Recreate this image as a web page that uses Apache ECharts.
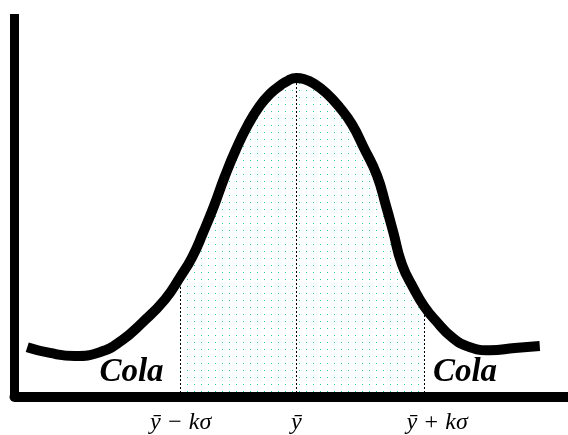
<!DOCTYPE html>
<html>
<head>
<meta charset="utf-8">
<script src="https://cdn.jsdelivr.net/npm/echarts@6/dist/echarts.min.js"></script>
<style>
  html, body { margin: 0; padding: 0; background: #ffffff; }
  #chart { width: 568px; height: 435px; }
</style>
</head>
<body>
<div id="chart"></div>
<script>
// Bell-shaped distribution curve: horizontal position and height of each point
const curveX = [2.3, 6.4, 10.9, 15.4, 19.4, 23.0, 27.2, 30.0, 32.1, 34.1, 36.0, 38.0, 40.0,
                42.2, 44.3, 46.2, 48.0, 49.4, 50.9, 52.5, 53.9, 56.3, 58.8, 61.0, 63.1, 65.5,
                67.1, 68.4, 70.0, 72.2, 74.0, 76.0, 79.2, 82.3, 85.9, 90.4, 94.9];
const curveY = [13.0, 11.5, 10.7, 11.7, 14.8, 19.3, 25.5, 31.5, 36.5, 43.0, 49.7, 57.6, 64.6,
                71.1, 76.0, 79.2, 81.3, 82.6, 83.3, 82.9, 82.0, 79.4, 75.5, 71.1, 65.1, 57.8,
                50.0, 43.2, 34.6, 28.1, 23.7, 20.1, 15.4, 13.0, 12.2, 12.8, 13.3];

// Lower limit, mean and upper limit on the horizontal scale
const lowerLimit = 30.0;
const meanValue = 50.9;
const upperLimit = 74.0;
const tickValues = [lowerLimit, meanValue, upperLimit];
const tickLabels = ['ȳ − kσ', 'ȳ', 'ȳ + kσ'];
const tailLabel = 'Cola';

const curveData = curveX.map((x, i) => [x, curveY[i]]);
const fillData = curveData.filter(p => p[0] >= lowerLimit && p[0] <= upperLimit);
const heightAt = v => curveY[curveX.indexOf(v)];

// Fine dot texture for the central region
const dots = document.createElement('canvas');
dots.width = 7;
dots.height = 7;
const dctx = dots.getContext('2d');
dctx.fillStyle = '#22d09c';
dctx.fillRect(5, 6, 1, 1);

const serif = '"Liberation Serif", "Times New Roman", serif';

const tailText = (x) => ({
  type: 'text', z: 10,
  style: {
    text: tailLabel, x: x, y: 372, align: 'center', verticalAlign: 'middle',
    fontFamily: serif, fontStyle: 'italic', fontWeight: 'bold', fontSize: 33, fill: '#000'
  }
});

const chart = echarts.init(document.getElementById('chart'), null, { renderer: 'canvas' });
chart.setOption({
  animation: false,
  backgroundColor: '#ffffff',
  grid: { left: 14.5, right: 0, top: 14, bottom: 37, containLabel: false },
  xAxis: {
    type: 'value',
    min: 0,
    max: 100,
    axisLine: { show: true, onZero: false, lineStyle: { color: '#000', width: 10 } },
    axisTick: { show: false },
    splitLine: { show: false },
    axisLabel: {
      customValues: tickValues,
      margin: 14,
      color: '#000',
      fontFamily: serif,
      fontStyle: 'italic',
      fontSize: 24,
      formatter: v => {
        const i = tickValues.indexOf(v);
        if (i < 0) return '';
        return i === 2 ? '{r|' + tickLabels[i] + '}' : tickLabels[i];
      },
      rich: {
        r: { padding: [0, 0, 0, 26], fontFamily: serif, fontStyle: 'italic', fontSize: 24, color: '#000' }
      }
    }
  },
  yAxis: {
    type: 'value',
    min: 0,
    max: 100,
    axisLine: { show: true, lineStyle: { color: '#000', width: 9, cap: 'butt' } },
    axisTick: { show: false },
    axisLabel: { show: false },
    splitLine: { show: false }
  },
  graphic: [tailText(131.5), tailText(465)],
  series: [
    {
      name: 'region',
      type: 'line',
      data: fillData,
      smooth: 0.5,
      symbol: 'none',
      silent: true,
      z: 1,
      lineStyle: { width: 0 },
      areaStyle: { color: { image: dots, repeat: 'repeat' }, opacity: 1 },
      markLine: {
        silent: true,
        symbol: ['none', 'none'],
        label: { show: false },
        lineStyle: { color: '#000', width: 1, type: [2, 2] },
        data: tickValues.map(v => [{ coord: [v, 0] }, { coord: [v, heightAt(v)] }])
      }
    },
    {
      name: 'curve',
      type: 'line',
      data: curveData,
      smooth: 0.5,
      symbol: 'none',
      silent: true,
      z: 3,
      lineStyle: { color: '#000', width: 10, cap: 'butt', join: 'round' }
    }
  ]
});
</script>
</body>
</html>
